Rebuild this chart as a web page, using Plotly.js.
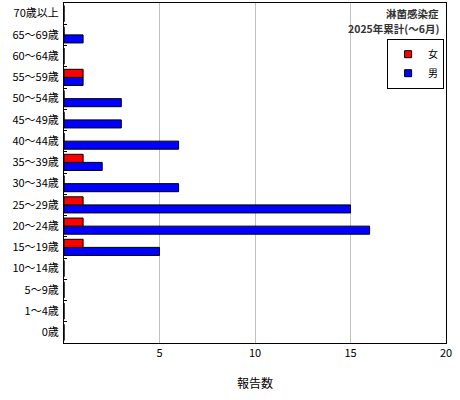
<!DOCTYPE html>
<html>
<head>
<meta charset="utf-8">
<script src="https://cdn.plot.ly/plotly-3.0.1.min.js"></script>
<style>
  html, body { margin: 0; padding: 0; background: #fff; }
  #chart { width: 460px; height: 400px; }
</style>
</head>
<body>
<div id="chart"></div>
<script>
// age groups, bottom to top
var ageGroups = ['0歳', '1～4歳', '5～9歳', '10～14歳', '15～19歳', '20～24歳', '25～29歳',
                 '30～34歳', '35～39歳', '40～44歳', '45～49歳', '50～54歳', '55～59歳',
                 '60～64歳', '65～69歳', '70歳以上'];
var male   = [0, 0, 0, 0, 5, 16, 15, 6, 2, 6, 3, 3, 1, 0, 1, 0];
var female = [0, 0, 0, 0, 1, 1, 1, 0, 1, 0, 0, 0, 1, 0, 0, 0];
var xTicks = [5, 10, 15, 20];

var font = 'Noto Sans CJK JP, sans-serif';

function legendOnly(name, color) {
    // small square key like the original legend
    return { type: 'scatter', mode: 'markers', name: name, x: [null], y: [null],
             marker: { symbol: 'square', size: 7, color: color, line: { color: '#000', width: 1 } } };
}

function titleLine(text, y) {
    return { xref: 'paper', yref: 'paper', x: 0.985, y: y, xanchor: 'right', yanchor: 'middle',
             text: '<b>' + text + '</b>', showarrow: false, borderpad: 0,
             font: { size: 10.5, color: '#333' } };
}

var traces = [
    { type: 'bar', orientation: 'h', name: '男', y: ageGroups, x: male, showlegend: false,
      marker: { color: '#0000ff', line: { color: '#000', width: 1 } } },
    { type: 'bar', orientation: 'h', name: '女', y: ageGroups, x: female, showlegend: false,
      marker: { color: '#ff0000', line: { color: '#000', width: 1 } } },
    legendOnly('男', '#0000ff'),
    legendOnly('女', '#ff0000')
];

var layout = {
    width: 460, height: 400,
    margin: { l: 64, r: 14, t: 3, b: 57 },
    paper_bgcolor: '#fff', plot_bgcolor: '#fff',
    font: { family: font, size: 11, color: '#000' },
    barmode: 'group', bargap: 0.24, bargroupgap: 0,
    showlegend: true,
    legend: {
        x: 0.995, y: 0.895, xanchor: 'right', yanchor: 'top',
        traceorder: 'reversed', bordercolor: '#000', borderwidth: 1,
        bgcolor: '#fff', font: { size: 10 }, itemwidth: 30, tracegroupgap: 0
    },
    xaxis: {
        range: [0, 20], tickvals: xTicks, ticks: '',
        showgrid: true, gridcolor: '#c0c0c0', gridwidth: 1,
        showline: true, linecolor: '#000', linewidth: 1, mirror: true,
        zeroline: false, fixedrange: true,
        title: { text: '報告数', font: { size: 12 }, standoff: 20 }
    },
    yaxis: {
        type: 'category', categoryorder: 'array', categoryarray: ageGroups,
        tickson: 'boundaries', ticks: 'inside', ticklen: 3, tickcolor: '#000',
        showline: true, linecolor: '#000', linewidth: 1, mirror: true,
        showgrid: false, ticklabelstandoff: 2, fixedrange: true
    },
    annotations: [
        titleLine('淋菌感染症', 0.97),
        titleLine('2025年累計(～6月)', 0.924)
    ]
};

Plotly.newPlot('chart', traces, layout, { displayModeBar: false, staticPlot: true });
</script>
</body>
</html>
